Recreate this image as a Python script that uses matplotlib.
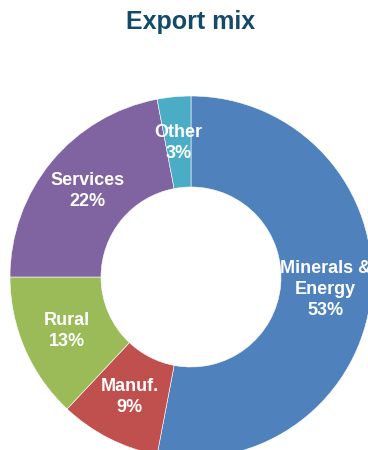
import matplotlib

matplotlib.use("Agg")
import matplotlib.pyplot as plt

# Export shares, clockwise from 12 o'clock
sectors = ["Minerals &\nEnergy", "Manuf.", "Rural", "Services", "Other"]
shares = [53, 9, 13, 22, 3]
colors = ["#4F81BD", "#C0504D", "#9BBB59", "#8064A2", "#4BACC6"]

W, H = 368, 450
fig = plt.figure(figsize=(W / 100, H / 100), dpi=100)
ax = fig.add_axes([0, 0, 1, 1])

labels = [f"{s}\n{v}%" for s, v in zip(sectors, shares)]
wedges, texts = ax.pie(
    shares,
    labels=labels,
    colors=colors,
    center=(191, 173),
    radius=181,
    startangle=90,
    counterclock=False,
    labeldistance=0.745,
    wedgeprops=dict(width=91, edgecolor="white", linewidth=0.4),
    frame=True,
)
ax.set_xlim(0, W)
ax.set_ylim(0, H)
ax.set_aspect("equal")
ax.axis("off")
for t in texts:
    t.set_ha("center")
    t.set_va("center")
    t.set_color("white")
    t.set_fontsize(13)
    t.set_fontweight("bold")
    t.set_family("Liberation Sans")
    t.set_linespacing(1.3)

fig.text(191 / W, 1 - 22 / H, "Export mix", ha="center", va="center",
         fontsize=18, fontweight="bold", color="#134A68", family="Liberation Sans")

fig.savefig("out.png", dpi=100)
